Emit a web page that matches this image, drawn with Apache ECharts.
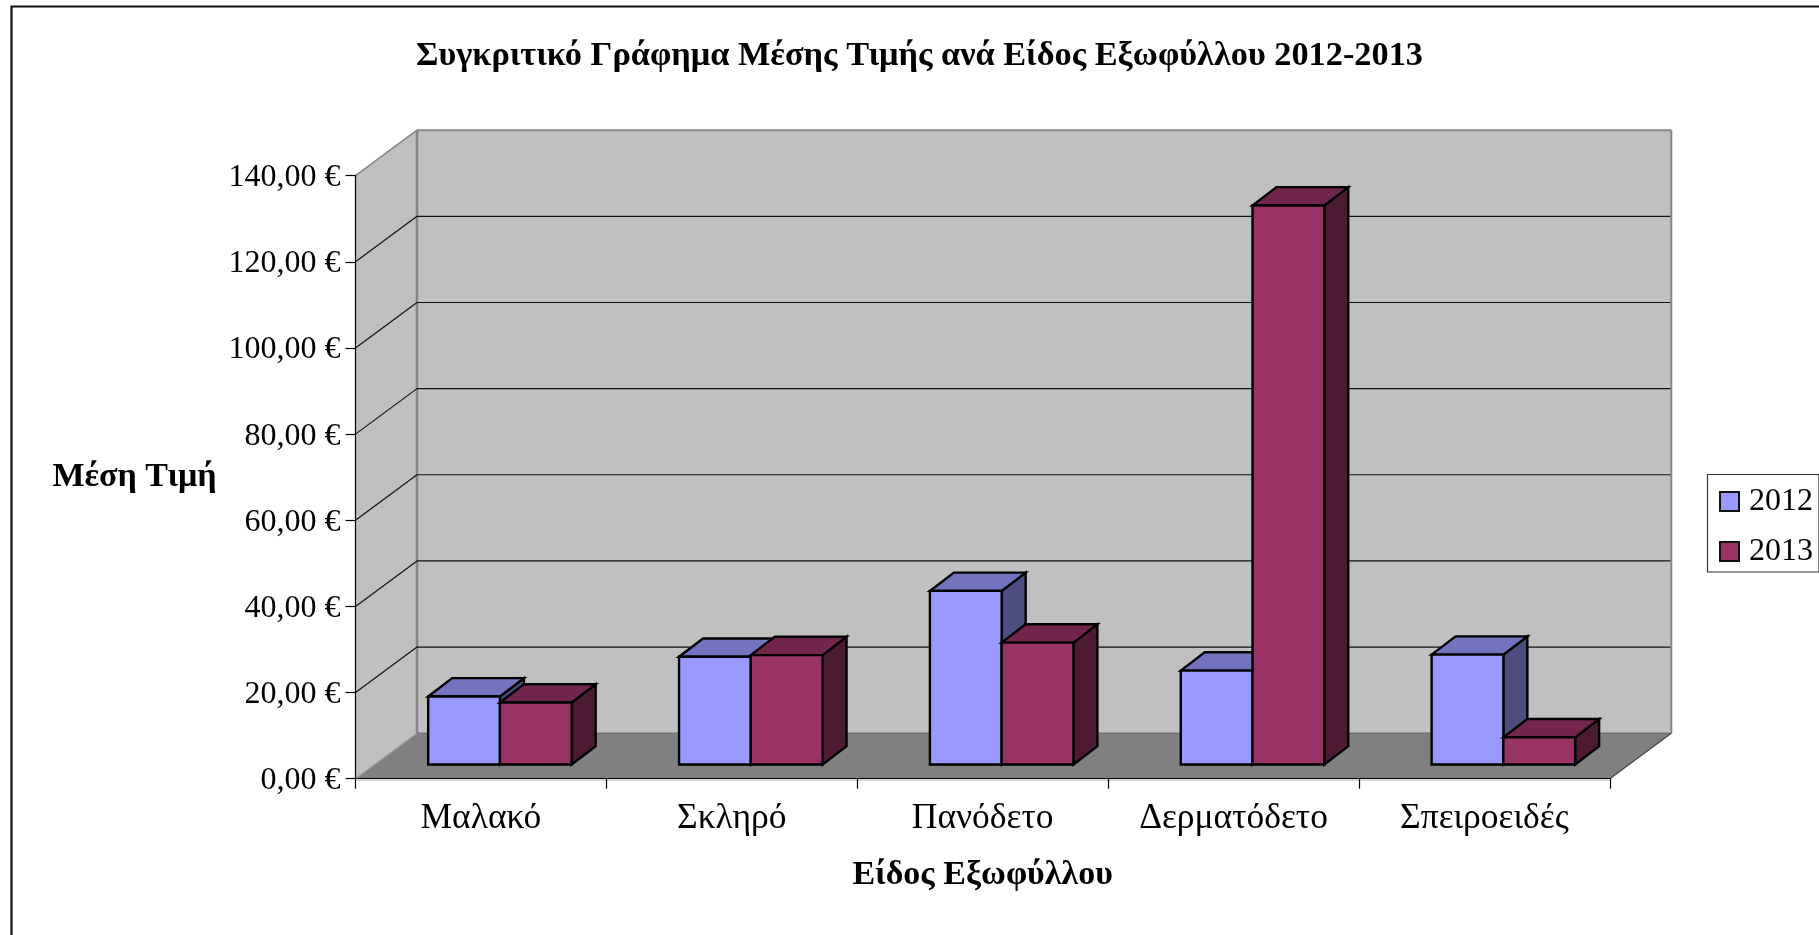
<!DOCTYPE html>
<html>
<head>
<meta charset="utf-8">
<style>html,body{margin:0;padding:0;background:#fff;overflow:hidden}#c{width:1819px;height:935px}</style>
<script src="https://cdn.jsdelivr.net/npm/echarts@6/dist/echarts.min.js"></script>
</head>
<body>
<div id="c"></div>
<script>
const categories = ['Μαλακό','Σκληρό','Πανόδετο','Δερματόδετο','Σπειροειδές'];
const values2012 = [15.8, 25.0, 40.3, 21.8, 25.5];
const values2013 = [14.4, 25.4, 28.3, 129.8, 6.3];
const yTicks = [0,20,40,60,80,100,120,140];
const yTickLabels = ['0,00 €','20,00 €','40,00 €','60,00 €','80,00 €','100,00 €','120,00 €','140,00 €'];
const FONT = '"Liberation Serif"';

const WALL_DX = 61.5, WALL_DY = 45.5;    // depth of the box
const BASE_DX = 19, BASE_DY = 14.2;      // bars stand this far into the floor
const BAR_DX = 24, BAR_DY = 18.3;        // depth of a bar
const BAR_FRACTION = 0.286;              // bar width / category width

const chart = echarts.init(document.getElementById('c'), null, {renderer:'canvas'});

function poly(points, fill, stroke, lw){
  return {type:'polygon', shape:{points}, style:{fill, stroke:stroke||null, lineWidth:lw||0, lineJoin:'miter'}};
}
function line(x1,y1,x2,y2,stroke,lw){
  return {type:'line', shape:{x1,y1,x2,y2}, style:{stroke, lineWidth:lw, fill:null}};
}

function renderWalls(params, api){
  const v = api.value(0);
  const band = api.size([1,0])[0];
  const left = api.coord([0,0])[0]-band/2;
  const right = api.coord([categories.length-1,0])[0]+band/2;
  const y = api.coord([0,v])[1];
  const y0 = api.coord([0,0])[1];
  const yTop = api.coord([0,yTicks[yTicks.length-1]])[1];
  const kids = [];
  if (v === 0){
    kids.push(poly([[left,y0],[left+WALL_DX,y0-WALL_DY],[right+WALL_DX,y0-WALL_DY],[right,y0]],'#808080'));
    kids.push(poly([[left,y0],[left,yTop],[left+WALL_DX,yTop-WALL_DY],[left+WALL_DX,y0-WALL_DY]],'#c0c0c0'));
    kids.push(poly([[left+WALL_DX,yTop-WALL_DY],[right+WALL_DX,yTop-WALL_DY],[right+WALL_DX,y0-WALL_DY],[left+WALL_DX,y0-WALL_DY]],'#c0c0c0'));
    kids.push(line(left+WALL_DX,yTop-WALL_DY,right+WALL_DX,yTop-WALL_DY,'#868686',2));
    kids.push(line(left+WALL_DX,yTop-WALL_DY,left+WALL_DX,y0-WALL_DY,'#868686',2.6));
    kids.push(line(right+WALL_DX,yTop-WALL_DY,right+WALL_DX,y0-WALL_DY,'#868686',2));
    kids.push(line(left,yTop,left+WALL_DX,yTop-WALL_DY,'#868686',1.6));
    kids.push(line(left,y0,left+WALL_DX,y0-WALL_DY,'#999',1.2));
    kids.push(line(left+WALL_DX,y0-WALL_DY,right+WALL_DX,y0-WALL_DY,'#727272',1.6));
    kids.push(line(right,y0,right+WALL_DX,y0-WALL_DY,'#444',1.2));
    kids.push(line(left,y0+1.5,right,y0+1.5,'#c4c4c4',1.2));
  } else if (v !== yTicks[yTicks.length-1]) {
    kids.push(line(left,y,left+WALL_DX,y-WALL_DY,'#111',1.2));
    kids.push(line(left+WALL_DX,y-WALL_DY,right+WALL_DX-1,y-WALL_DY,'#111',1.2));
  }
  return {type:'group', children:kids, silent:true};
}

function barRenderer(offsetIndex, front, top, side){
  return function(params, api){
    const cat = api.value(0), val = api.value(1);
    const band = api.size([1,0])[0];
    const w = band*BAR_FRACTION;
    const c = api.coord([cat,val]);
    const b = api.coord([cat,0]);
    const x0 = c[0]+BASE_DX+(offsetIndex-1)*w, x1 = x0+w;
    const yt = c[1]-BASE_DY, yb = b[1]-BASE_DY;
    const sw = 2.4;
    return {type:'group', children:[
      poly([[x1,yb],[x1,yt],[x1+BAR_DX,yt-BAR_DY],[x1+BAR_DX,yb-BAR_DY]], side,'#000',sw),
      poly([[x0,yt],[x0+BAR_DX,yt-BAR_DY],[x1+BAR_DX,yt-BAR_DY],[x1,yt]], top,'#000',sw),
      poly([[x0,yb],[x0,yt],[x1,yt],[x1,yb]], front,'#000',sw)
    ]};
  };
}

function pairs(arr){ return arr.map((v,i)=>[i,v]); }

chart.setOption({
  animation:false,
  backgroundColor:'#fff',
  textStyle:{fontFamily:FONT,color:'#000'},
  title:{
    text:'Συγκριτικό Γράφημα Μέσης Τιμής ανά Είδος Εξωφύλλου 2012-2013',
    left:914.5, top:34, textAlign:'center',
    textStyle:{fontFamily:FONT,fontWeight:'bold',fontSize:34.3,color:'#000'}
  },
  legend:{
    data:['2012','2013'],
    orient:'vertical', left:1707.5, top:474.5,
    padding:[11,6,4.5,11.5], itemGap:18,
    itemWidth:19, itemHeight:19, icon:'rect',
    backgroundColor:'#fff', borderColor:'#333', borderWidth:1.2,
    textStyle:{fontFamily:FONT,fontSize:32,color:'#000',padding:[0,0,0,5]},
    selectedMode:false,
    itemStyle:{borderColor:'#111',borderWidth:2}
  },
  grid:{left:355.5,top:175.7,width:1254.3,height:603},
  xAxis:{
    type:'category', data:categories, z:6,
    name:'Είδος Εξωφύλλου', nameLocation:'middle', nameGap:80,
    nameTextStyle:{fontFamily:FONT,fontWeight:'bold',fontSize:34,color:'#000'},
    axisLine:{show:true,lineStyle:{color:'#000',width:1.2}},
    axisTick:{show:true,length:10,lineStyle:{color:'#000',width:1.2}},
    axisLabel:{margin:22,fontFamily:FONT,fontSize:35.5,color:'#000',interval:0},
    splitLine:{show:false}
  },
  yAxis:{
    type:'value', min:0, max:140, interval:20, z:6,
    name:'Μέση Τιμή', nameLocation:'middle', nameRotate:0, nameGap:139,
    nameTextStyle:{fontFamily:FONT,fontWeight:'bold',fontSize:34,color:'#000'},
    axisLine:{show:true,lineStyle:{color:'#000',width:1.2}},
    axisTick:{show:true,length:10,lineStyle:{color:'#000',width:1.2}},
    axisLabel:{margin:15,fontFamily:FONT,fontSize:32,color:'#000',verticalAlign:'top',lineHeight:4,
      formatter:(v)=>yTickLabels[yTicks.indexOf(v)]},
    splitLine:{show:false}
  },
  graphic:[{type:'rect',z:-1,silent:true,
    shape:{x:11.5,y:6.5,width:2400,height:2400},
    style:{fill:null,stroke:'#111',lineWidth:2.2}}],
  series:[
    {name:'walls',type:'custom',z:1,silent:true,data:yTicks.map(v=>[v]),
     encode:{y:0},renderItem:renderWalls,clip:false},
    {name:'2012',type:'custom',z:8,silent:true,data:pairs(values2012),
     encode:{x:0,y:1},itemStyle:{color:'#9999ff'},clip:false,
     renderItem:barRenderer(0,'#9999ff','#7373bf','#4d4d80')},
    {name:'2013',type:'custom',z:9,silent:true,data:pairs(values2013),
     encode:{x:0,y:1},itemStyle:{color:'#993366'},clip:false,
     renderItem:barRenderer(1,'#993366','#73264d','#4d1a33')}
  ]
});
</script>
</body>
</html>
